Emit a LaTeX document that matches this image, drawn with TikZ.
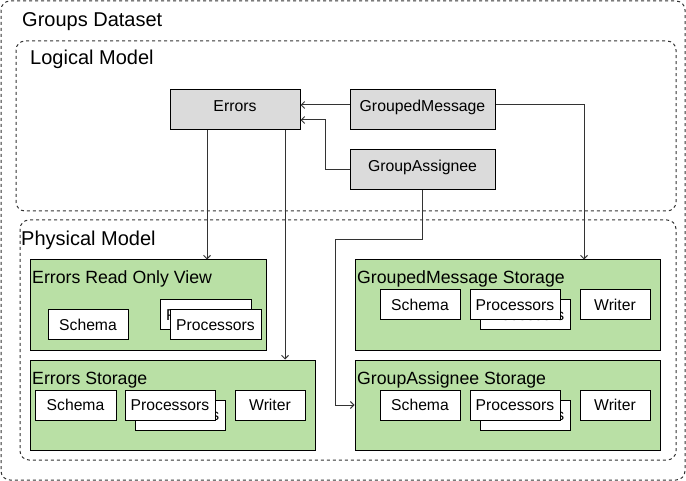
\documentclass[tikz,border=0pt]{standalone}
\usepackage{fontspec}
\setmainfont{Liberation Sans}
\usetikzlibrary{arrows.meta}
\definecolor{lgray}{HTML}{DBDBDB}
\definecolor{lgreen}{HTML}{B9E0A5}
\definecolor{dline}{HTML}{333333}
\tikzset{
  groupbox/.style={draw=dline, line width=1pt, dash pattern=on 3pt off 3pt, rounded corners=9pt},
  title/.style={anchor=base west, inner sep=0pt, font=\fontsize{20}{24}\selectfont},
  subtitle/.style={anchor=base west, inner sep=0pt, font=\fontsize{17.7}{21}\selectfont},
  entity/.style={draw=black, line width=1pt, fill=lgray, minimum width=130pt, minimum height=40pt, inner sep=0pt, text height=12pt, text depth=9.7pt, font=\fontsize{15.8}{18}\selectfont},
  greenbox/.style={draw=black, line width=1pt, fill=lgreen, minimum height=90pt, inner sep=0pt},
  part/.style={draw=black, line width=1pt, fill=white, minimum height=30pt, inner sep=0pt, font=\fontsize{15.7}{18}\selectfont},
  conn/.style={draw=dline, line width=1pt, -{Straight Barb[length=3.5pt,width=7pt]}},
}
\begin{document}
\begin{tikzpicture}[x=1pt,y=-1pt]
\useasboundingbox (0,0) rectangle (686,481);
% group frames
\draw[groupbox] (1,1) rectangle (685,480);
\draw[groupbox] (16,41) rectangle (676,211);
\draw[groupbox] (20,220) rectangle (676,460);
\node[title] (tgd) at (22,26.5) {Groups Dataset};
\node[title] (tlm) at (30,65) {Logical Model};
\node[title] (tpm) at (21,246) {Physical Model};
% logical entities
\node[entity] (err) at (235,110) {Errors};
\node[entity, minimum width=145pt] (gm) at (422.5,110) {GroupedMessage};
\node[entity, minimum width=145pt] (ga) at (422.5,170) {GroupAssignee};
% physical: Errors Read Only View
\node[greenbox, minimum width=236pt] (rov) at (148,305) {};
\node[subtitle] (trov) at (32,284) {Errors Read Only View};
\node[part, minimum width=80pt] (rovs) at (88,325) {Schema};
\node[part, minimum width=91pt] (rovpb) at (205.5,315) {Processors};
\node[part, minimum width=91pt] (rovpf) at (215.5,325) {Processors};
% Errors Storage
\node[greenbox, minimum width=285pt] (es) at (172.5,405) {};
\node[subtitle] (tes) at (32,384) {Errors Storage};
\node[part, minimum width=81pt] (ess) at (75.5,405) {Schema};
\node[part, minimum width=90pt] (espb) at (180,415) {Processors};
\node[part, minimum width=90pt] (espf) at (170,405) {Processors};
\node[part, minimum width=70pt] (esw) at (270,405) {Writer};
% GroupedMessage Storage
\node[greenbox, minimum width=305pt] (gms) at (507.5,305) {};
\node[subtitle] (tgms) at (357,284) {GroupedMessage Storage};
\node[part, minimum width=80pt] (gmss) at (420,305) {Schema};
\node[part, minimum width=90pt] (gmspb) at (525,315) {Processors};
\node[part, minimum width=90pt] (gmspf) at (515,305) {Processors};
\node[part, minimum width=70pt] (gmsw) at (615,305) {Writer};
% GroupAssignee Storage
\node[greenbox, minimum width=305pt] (gas) at (507.5,405) {};
\node[subtitle] (tgas) at (357,384) {GroupAssignee Storage};
\node[part, minimum width=80pt] (gass) at (420,405) {Schema};
\node[part, minimum width=90pt] (gaspb) at (525,415) {Processors};
\node[part, minimum width=90pt] (gaspf) at (515,405) {Processors};
\node[part, minimum width=70pt] (gasw) at (615,405) {Writer};
% connectors
\draw[conn] (gm.west |- 0,105) -- (err.east |- 0,105);
\draw[conn] (ga.west) -- (325,170) -- (325,120) -- (err.east |- 0,120);
\draw[conn] (err.south -| 207,0) -- (rov.north -| 207,0);
\draw[conn] (err.south -| 285,0) -- (es.north -| 285,0);
\draw[conn] (gm.east |- 0,105) -- (584,105) -- (gms.north -| 584,0);
\draw[conn] (ga.south) -- (422.5,240) -- (335,240) -- (335,405) -- (gas.west);
\end{tikzpicture}
\end{document}
